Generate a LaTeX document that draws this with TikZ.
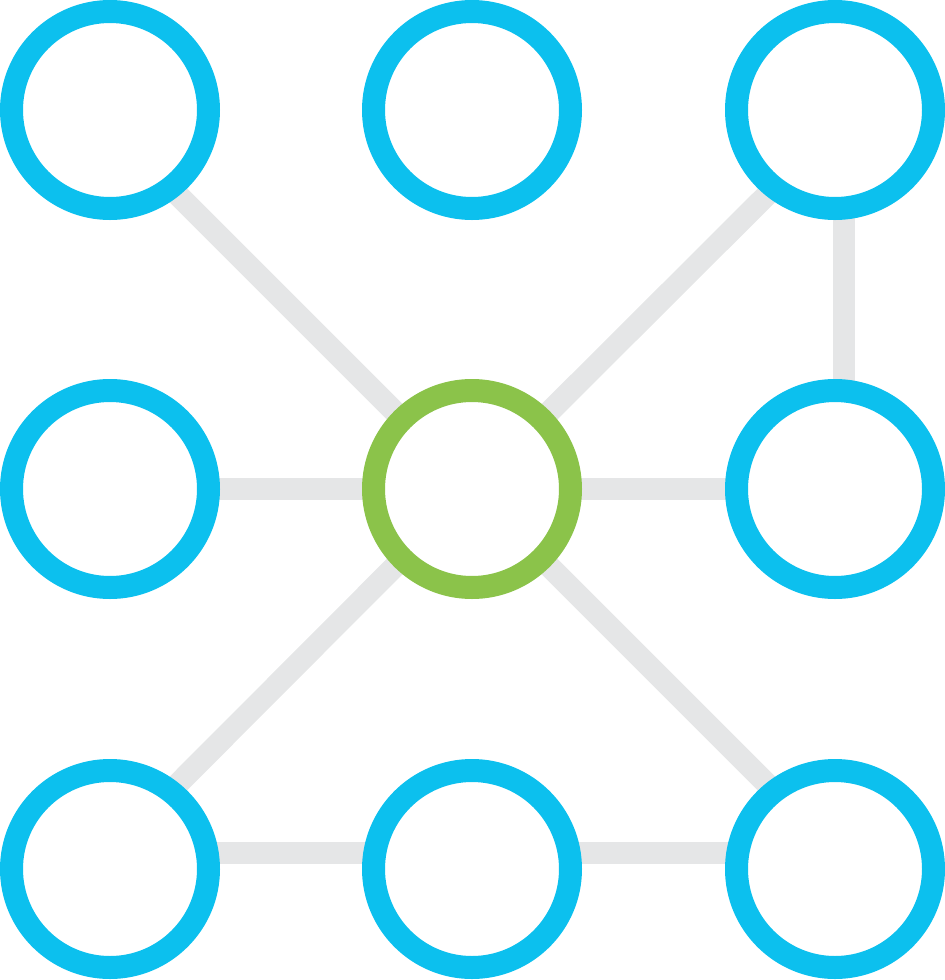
\documentclass[tikz,border=0pt]{standalone}
\definecolor{ringblue}{HTML}{0CC0EE}
\definecolor{ringgreen}{HTML}{8BC34A}
\definecolor{linkgrey}{HTML}{E5E6E7}
\tikzset{
  ring/.style={circle, draw=#1, line width=23pt, fill=white, minimum size=197pt, inner sep=0pt},
  link/.style={draw=linkgrey, line width=22pt}
}
\begin{document}
\begin{tikzpicture}[x=1pt,y=-1pt]
\useasboundingbox (0,0) rectangle (945,980);
% link end points
\coordinate (etl) at (110,127);
\coordinate (etr) at (835,127);
\coordinate (ebl) at (110,852);
\coordinate (ebr) at (835,852);
\coordinate (vtop) at (844,110);
\coordinate (vbot) at (844,489);
\coordinate (hbl) at (110,853);
\coordinate (hbm) at (472,853);
\coordinate (hbr) at (835,853);
\coordinate (cc) at (472,489);
\coordinate (cml) at (110,489);
\coordinate (cmr) at (835,489);
% links
\draw[link] (cc) -- (etl);
\draw[link] (cc) -- (etr);
\draw[link] (cc) -- (ebl);
\draw[link] (cc) -- (ebr);
\draw[link] (cml) -- (cmr);
\draw[link] (vtop) -- (vbot);
\draw[link] (hbl) -- (hbr);
% rings
\node[ring=ringblue] (tl) at (110,110) {};
\node[ring=ringblue] (tm) at (472,110) {};
\node[ring=ringblue] (tr) at (835,110) {};
\node[ring=ringblue] (ml) at (110,489) {};
\node[ring=ringgreen] (c) at (472,489) {};
\node[ring=ringblue] (mr) at (835,489) {};
\node[ring=ringblue] (bl) at (110,869) {};
\node[ring=ringblue] (bm) at (472,869) {};
\node[ring=ringblue] (br) at (835,869) {};
\end{tikzpicture}
\end{document}
